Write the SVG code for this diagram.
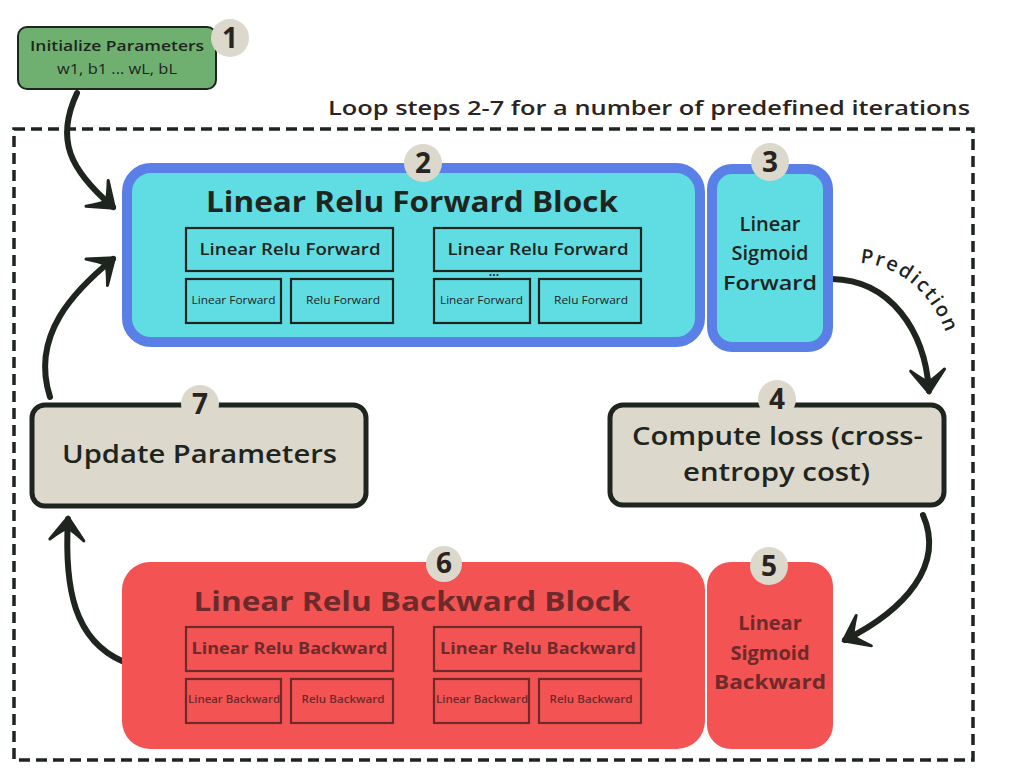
<svg xmlns="http://www.w3.org/2000/svg" width="1024" height="768" viewBox="0 0 1024 768">
<defs>
<marker id="head" viewBox="-26 -20 30 40" refX="0" refY="0" markerWidth="30" markerHeight="40" markerUnits="userSpaceOnUse" orient="auto">
<path d="M 2 0 L -21 -17 Q -12 -6 -9 0 Q -12 6 -21 17 Z" fill="#1e251f" stroke="#1e251f" stroke-width="3" stroke-linejoin="round"/>
</marker>
<path id="predPath" d="M 860 263 C 906 266, 940 302, 952 352"/>
</defs>
<style>
text{font-family:"Open Sans","DejaVu Sans",sans-serif;}
.dark{fill:#1e251f;}
.red{fill:#6e2a2a;}
.badge{fill:#dcd8cc;}
.num{font-size:28px;font-weight:700;fill:#2a2420;text-anchor:middle;}
.inF{fill:none;stroke:#1e251f;stroke-width:2.2;}
.inB{fill:none;stroke:#6e2a2a;stroke-width:2.2;}
.mid{text-anchor:middle;}
.conn{fill:none;stroke:#1e251f;stroke-width:6;stroke-linecap:round;marker-end:url(#head);}
</style>
<rect width="1024" height="768" fill="#ffffff"/>

<g id="loop">
<rect x="14" y="129" width="959" height="631" fill="none" stroke="#1e251f" stroke-width="3.5" stroke-dasharray="11 6"/>
<text x="328" y="115" font-size="20" font-weight="600" fill="#2b2420" textLength="642" lengthAdjust="spacingAndGlyphs">Loop steps 2-7 for a number of predefined iterations</text>
</g>

<g id="connectors">
<path class="conn" d="M 77 93 C 55 140, 70 170, 113 207"/>
<path class="conn" d="M 50 397 C 30 335, 75 290, 113 259"/>
<path class="conn" d="M 122 661 C 75 640, 64 590, 68 519"/>
<path class="conn" d="M 923 515 C 945 565, 905 610, 845 640"/>
<path class="conn" d="M 832 279 C 890 280, 925 330, 929 391"/>
<text font-size="20" font-weight="600" fill="#1e251f" letter-spacing="2"><textPath href="#predPath">Prediction</textPath></text>
</g>

<g id="node1">
<rect x="18" y="27" width="198" height="62" rx="9" fill="#6fb070" stroke="#1e251f" stroke-width="2"/>
<text x="117" y="51" class="mid dark" font-size="15" font-weight="600" textLength="174" lengthAdjust="spacingAndGlyphs">Initialize Parameters</text>
<text x="117" y="74" class="mid dark" font-size="15" textLength="120" lengthAdjust="spacingAndGlyphs">w1, b1 ... wL, bL</text>
<circle cx="230" cy="38" r="19" class="badge"/>
<text x="230" y="48" class="num">1</text>
</g>

<g id="node2">
<rect x="127" y="168" width="573" height="174" rx="24" fill="#60dde2" stroke="#5a7fe6" stroke-width="10"/>
<text x="412" y="212" class="mid dark" font-size="28" font-weight="700" textLength="412" lengthAdjust="spacingAndGlyphs">Linear Relu Forward Block</text>
<rect x="186" y="228" width="207" height="43" class="inF"/>
<rect x="434" y="228" width="207" height="43" class="inF"/>
<rect x="186" y="279" width="95" height="44" class="inF"/>
<rect x="291" y="279" width="102" height="44" class="inF"/>
<rect x="434" y="279" width="96" height="44" class="inF"/>
<rect x="539" y="279" width="102" height="44" class="inF"/>
<text x="290" y="255" class="mid dark" font-size="16" font-weight="600" textLength="181" lengthAdjust="spacingAndGlyphs">Linear Relu Forward</text>
<text x="538" y="255" class="mid dark" font-size="16" font-weight="600" textLength="181" lengthAdjust="spacingAndGlyphs">Linear Relu Forward</text>
<text x="494" y="276" class="mid dark" font-size="12" font-weight="700">...</text>
<text x="233.5" y="304" class="mid dark" font-size="11" textLength="84" lengthAdjust="spacingAndGlyphs">Linear Forward</text>
<text x="343" y="304" class="mid dark" font-size="11" textLength="74" lengthAdjust="spacingAndGlyphs">Relu Forward</text>
<text x="481.5" y="304" class="mid dark" font-size="11" textLength="83" lengthAdjust="spacingAndGlyphs">Linear Forward</text>
<text x="591" y="304" class="mid dark" font-size="11" textLength="74" lengthAdjust="spacingAndGlyphs">Relu Forward</text>
<circle cx="423" cy="163" r="19" class="badge"/>
<text x="423" y="173" class="num">2</text>
</g>

<g id="node3">
<rect x="712" y="169" width="116" height="178" rx="20" fill="#60dde2" stroke="#5a7fe6" stroke-width="10"/>
<text x="770" y="231" class="mid dark" font-size="20" font-weight="600">Linear</text>
<text x="770" y="260" class="mid dark" font-size="20" font-weight="600">Sigmoid</text>
<text x="770" y="290" class="mid dark" font-size="20" font-weight="600" textLength="94" lengthAdjust="spacingAndGlyphs">Forward</text>
<circle cx="770" cy="162" r="19" class="badge"/>
<text x="770" y="172" class="num">3</text>
</g>

<g id="node4">
<rect x="610" y="405" width="334" height="100" rx="13" fill="#dcd8cc" stroke="#1e251f" stroke-width="5"/>
<text x="777.5" y="445" class="mid dark" font-size="25" font-weight="600" textLength="291" lengthAdjust="spacingAndGlyphs">Compute loss (cross-</text>
<text x="776.5" y="481" class="mid dark" font-size="25" font-weight="600" textLength="187" lengthAdjust="spacingAndGlyphs">entropy cost)</text>
<circle cx="777" cy="399" r="19" class="badge"/>
<text x="777" y="409" class="num">4</text>
</g>

<g id="node5">
<rect x="707" y="562" width="126" height="187" rx="24" fill="#f45353"/>
<text x="770" y="630" class="mid red" font-size="20" font-weight="700">Linear</text>
<text x="770" y="660" class="mid red" font-size="20" font-weight="700">Sigmoid</text>
<text x="770" y="689" class="mid red" font-size="20" font-weight="700" textLength="112" lengthAdjust="spacingAndGlyphs">Backward</text>
<circle cx="769" cy="566" r="19" class="badge"/>
<text x="769" y="576" class="num">5</text>
</g>

<g id="node6">
<rect x="122" y="562" width="583" height="187" rx="28" fill="#f45353"/>
<text x="412" y="611" class="mid red" font-size="26" font-weight="700" textLength="437" lengthAdjust="spacingAndGlyphs">Linear Relu Backward Block</text>
<rect x="186" y="627" width="207" height="44" class="inB"/>
<rect x="434" y="627" width="207" height="44" class="inB"/>
<rect x="186" y="679" width="95" height="44" class="inB"/>
<rect x="291" y="679" width="102" height="44" class="inB"/>
<rect x="434" y="679" width="95" height="44" class="inB"/>
<rect x="539" y="679" width="102" height="44" class="inB"/>
<text x="289.5" y="654" class="mid red" font-size="16" font-weight="700" textLength="196" lengthAdjust="spacingAndGlyphs">Linear Relu Backward</text>
<text x="538" y="654" class="mid red" font-size="16" font-weight="700" textLength="196" lengthAdjust="spacingAndGlyphs">Linear Relu Backward</text>
<text x="234" y="703" class="mid red" font-size="11" font-weight="600" textLength="92" lengthAdjust="spacingAndGlyphs">Linear Backward</text>
<text x="343" y="703" class="mid red" font-size="11" font-weight="600" textLength="83" lengthAdjust="spacingAndGlyphs">Relu Backward</text>
<text x="482" y="703" class="mid red" font-size="11" font-weight="600" textLength="92" lengthAdjust="spacingAndGlyphs">Linear Backward</text>
<text x="591" y="703" class="mid red" font-size="11" font-weight="600" textLength="83" lengthAdjust="spacingAndGlyphs">Relu Backward</text>
<circle cx="444" cy="564" r="18" class="badge"/>
<text x="444" y="573" class="num">6</text>
</g>

<g id="node7">
<rect x="32" y="405" width="334" height="101" rx="13" fill="#dcd8cc" stroke="#1e251f" stroke-width="5"/>
<text x="199.5" y="463" class="mid dark" font-size="25" font-weight="600" textLength="275" lengthAdjust="spacingAndGlyphs">Update Parameters</text>
<circle cx="200" cy="404" r="19" class="badge"/>
<text x="200" y="414" class="num">7</text>
</g>
</svg>
